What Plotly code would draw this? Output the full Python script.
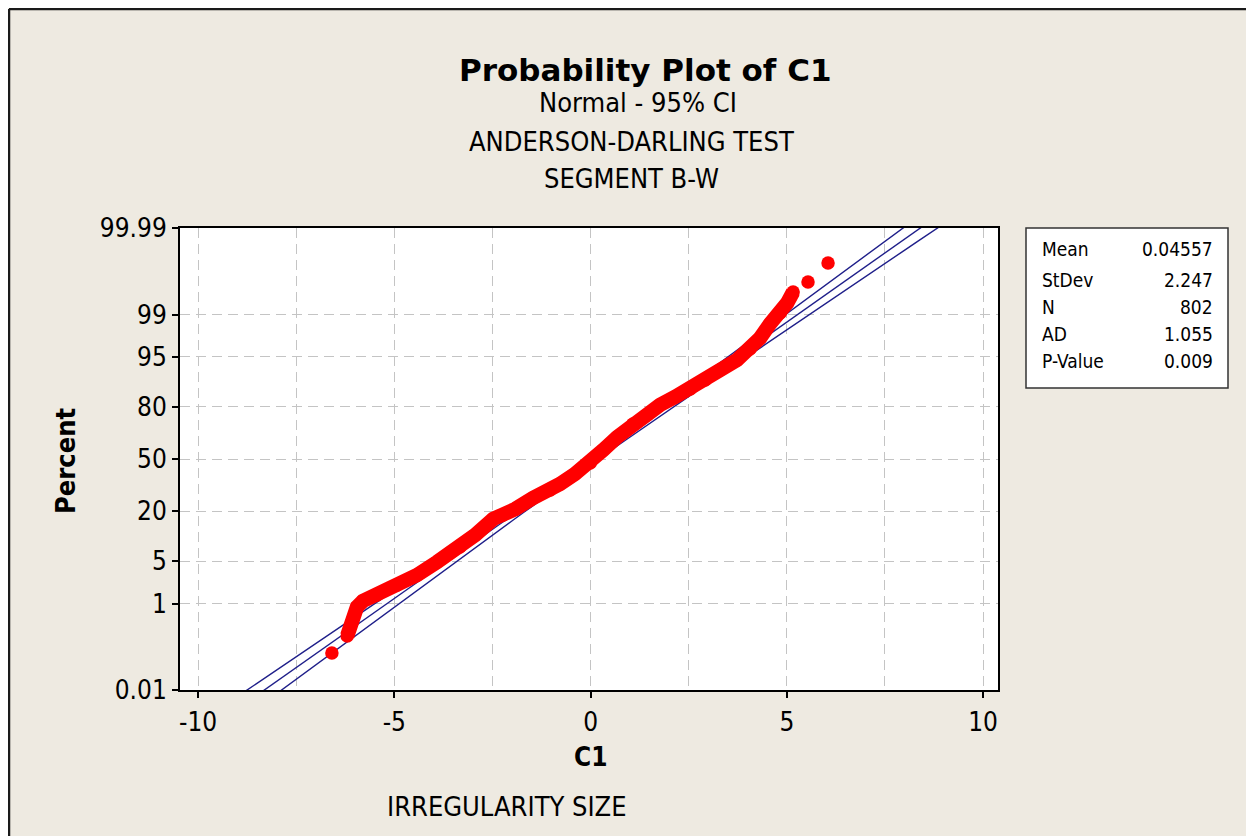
import numpy as np
import plotly.graph_objects as go
from statistics import NormalDist

nd = NormalDist()

# points (C1 value, percent)
c1 = [-6.59, -6.20, -6.08, -5.95, -5.80, -5.44, -4.93, -4.42, -3.91, -3.58,
      -3.33, -2.94, -2.48, -2.23, -1.92, -1.47, -1.03, -0.78, -0.40, -0.01,
      0.32, 0.68, 1.08, 1.44, 1.77, 2.15, 2.54, 2.92, 3.30, 3.73,
      4.06, 4.32, 4.57, 4.83, 5.01, 5.16, 5.54, 6.05]
percent = [0.089, 0.22, 0.43, 0.86, 1.11, 1.43, 2.12, 3.09, 4.86, 6.50,
           7.82, 11.05, 16.70, 18.35, 21.04, 26.50, 30.89, 34.35, 40.45, 47.43,
           55.76, 63.85, 71.35, 76.06, 80.78, 84.09, 87.01, 89.83, 92.41, 94.45,
           96.17, 97.43, 98.52, 99.06, 99.40, 99.64, 99.78, 99.92]

mean = 0.04557
stdev = 2.247
n = 802

stat_labels = ["Mean", "StDev", "N", "AD", "P-Value"]
stat_values = ["0.04557", "2.247", "802", "1.055", "0.009"]

pct_ticks = [0.01, 1, 5, 20, 50, 80, 95, 99, 99.99]
pct_text = ["0.01", "1", "5", "20", "50", "80", "95", "99", "99.99"]
x_ticks = [-10, -5, 0, 5, 10]
x_text = ["-10", "-5", "0", "5", "10"]

FONT = "DejaVu Sans Condensed, DejaVu Sans, sans-serif"
TITLE_FONT = "DejaVu Sans, sans-serif"


def z(p):
    return nd.inv_cdf(p / 100.0)


# screen px -> paper coords (plot area on screen: x 180..998, y 228..690)
def px(x):
    return (x - 180) / 818.0


def py(y):
    return (690 - y) / 462.0


zs = [z(p) for p in percent]

# fitted normal line and 95% CI bands
zz = np.linspace(z(0.005), z(99.995), 60)
fit_x = mean + stdev * zz
half = 1.96 * stdev * np.sqrt(1.0 / n + zz ** 2 / (2.0 * (n - 1)))

fig = go.Figure()
blue = "#1f1f8a"
for xs in (fit_x - half, fit_x, fit_x + half):
    fig.add_trace(go.Scatter(x=xs, y=zz, mode="lines",
                             line=dict(color=blue, width=1.4), hoverinfo="skip"))

red = "#ff0000"
fig.add_trace(go.Scatter(x=c1[1:-2], y=zs[1:-2], mode="lines",
                         line=dict(color=red, width=14.5), hoverinfo="skip"))
fig.add_trace(go.Scatter(x=c1, y=zs, mode="markers",
                         marker=dict(color=red, size=13.5, line=dict(width=0))))

grid = "#c4c4c4"
dash = "10px,6px"
fig.update_xaxes(range=[-10.46, 10.38], tickvals=x_ticks, ticktext=x_text,
                 ticks="outside", ticklen=6, tickwidth=1.5, tickcolor="black",
                 showline=True, linecolor="black", linewidth=2, mirror=True,
                 showgrid=True, gridcolor=grid, gridwidth=1, griddash=dash,
                 zeroline=False, tickfont=dict(size=26), ticklabelstandoff=2,
                 minor=dict(dtick=2.5, tick0=0, showgrid=True, gridcolor=grid,
                            griddash=dash, ticks=""))
fig.update_yaxes(range=[z(0.01), z(99.99)], tickvals=[z(p) for p in pct_ticks],
                 ticktext=pct_text, ticks="outside", ticklen=6, tickwidth=1.5,
                 tickcolor="black", showline=True, linecolor="black", linewidth=2,
                 mirror=True, showgrid=True, gridcolor=grid, gridwidth=1,
                 griddash=dash, zeroline=False, tickfont=dict(size=26))

shapes = [
    # window frame on top / left
    dict(type="line", xref="paper", yref="paper", x0=px(9), x1=1.6, y0=py(9), y1=py(9),
         line=dict(color="#1a1a1a", width=2.5)),
    dict(type="line", xref="paper", yref="paper", x0=px(9), x1=px(9), y0=-0.6, y1=py(9),
         line=dict(color="#1a1a1a", width=2.5)),
    # stats box
    dict(type="rect", xref="paper", yref="paper", x0=px(1026), x1=px(1228),
         y0=py(388), y1=py(228), fillcolor="white", line=dict(color="#333333", width=1.5)),
]

annotations = [
    dict(text="<b>Probability Plot of C1</b>", x=px(645), y=py(70),
         font=dict(size=31, family=TITLE_FONT)),
    dict(text="Normal - 95% CI", x=px(638), y=py(103), font=dict(size=27)),
    dict(text="ANDERSON-DARLING TEST", x=px(631), y=py(141), font=dict(size=27)),
    dict(text="SEGMENT B-W", x=px(631), y=py(178), font=dict(size=27)),
    dict(text="<b>Percent</b>", x=px(65), y=py(461), textangle=-90, font=dict(size=27)),
    dict(text="<b>C1</b>", x=px(590), y=py(757), font=dict(size=26)),
    dict(text="IRREGULARITY SIZE", x=px(507), y=py(806), font=dict(size=27)),
]
for a in annotations:
    a.update(xref="paper", yref="paper", showarrow=False, xanchor="center", yanchor="middle")

row_y = [248.5, 279.5, 306.5, 333.5, 361]
for lab, val, yy in zip(stat_labels, stat_values, row_y):
    annotations.append(dict(text=lab, x=px(1040), y=py(yy), xref="paper", yref="paper",
                            showarrow=False, xanchor="left", yanchor="middle",
                            font=dict(size=19)))
    annotations.append(dict(text=val, x=px(1215), y=py(yy), xref="paper", yref="paper",
                            showarrow=False, xanchor="right", yanchor="middle",
                            font=dict(size=19)))

# the page body adds an 8px offset, so the figure is laid out 8px up/left
fig.update_layout(width=1254, height=836, margin=dict(l=172, r=264, t=220, b=154),
                  paper_bgcolor="#eeeae1", plot_bgcolor="white", showlegend=False,
                  font=dict(family=FONT, color="black"),
                  shapes=shapes, annotations=annotations)

fig.write_html("out.html")
